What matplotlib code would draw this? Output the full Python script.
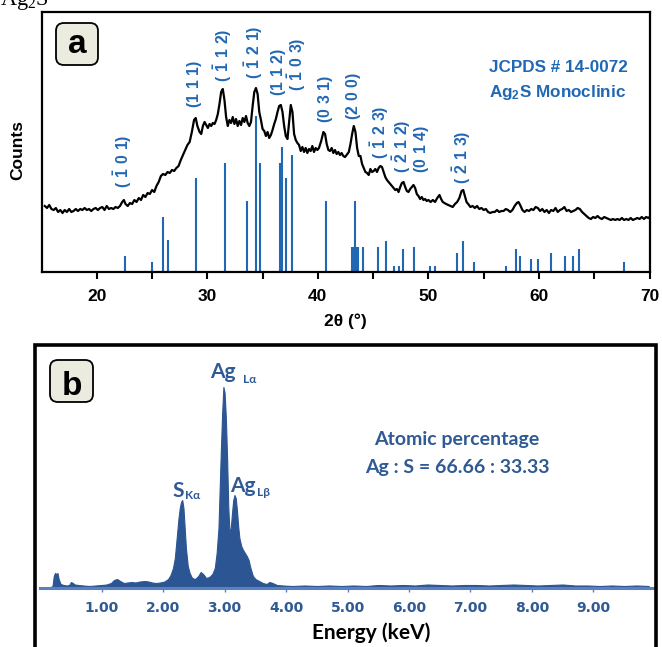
import matplotlib
matplotlib.use("Agg")
import matplotlib.pyplot as plt
from matplotlib.patches import FancyBboxPatch, Rectangle
import numpy as np

W, H = 662, 647

# ---------------- data: XRD (panel a) ----------------
two_theta = [15.3, 15.5, 15.7, 15.9, 16.1, 16.3, 16.5, 16.7, 16.9, 17.1, 17.3, 17.5, 17.7, 17.9,
             18.1, 18.3, 18.5, 18.7, 18.9, 19.1, 19.3, 19.5, 19.7, 19.9, 20.1, 20.3, 20.5, 20.7,
             20.9, 21.1, 21.3, 21.5, 21.7, 21.9, 22.1, 22.3, 22.45, 22.6, 22.8, 23.0, 23.2, 23.4,
             23.6, 23.8, 24.0, 24.2, 24.4, 24.6, 24.8, 25.0, 25.2, 25.4, 25.6, 25.8, 26.0, 26.2,
             26.4, 26.6, 26.8, 27.0, 27.2, 27.4, 27.6, 27.8, 28.0, 28.2, 28.4, 28.6, 28.8, 28.95,
             29.1, 29.3, 29.45, 29.6, 29.75, 29.9, 30.05, 30.2, 30.35, 30.5, 30.65, 30.8, 30.95,
             31.1, 31.25, 31.4, 31.55, 31.7, 31.85, 32.0, 32.15, 32.3, 32.45, 32.6, 32.75, 32.9,
             33.05, 33.2, 33.35, 33.5, 33.65, 33.8, 33.95, 34.1, 34.25, 34.4, 34.55, 34.7, 34.85,
             35.0, 35.15, 35.3, 35.45, 35.6, 35.75, 35.9, 36.05, 36.2, 36.35, 36.5, 36.65, 36.8,
             36.95, 37.1, 37.25, 37.4, 37.55, 37.7, 37.85, 38.0, 38.15, 38.3, 38.45, 38.6, 38.75,
             38.9, 39.05, 39.2, 39.35, 39.5, 39.65, 39.8, 39.95, 40.1, 40.3, 40.5, 40.65, 40.8,
             40.95, 41.1, 41.25, 41.4, 41.55, 41.7, 41.85, 42.0, 42.15, 42.3, 42.45, 42.6, 42.8,
             42.95, 43.1, 43.25, 43.4, 43.55, 43.7, 43.85, 44.0, 44.15, 44.3, 44.45, 44.6, 44.75,
             44.9, 45.05, 45.2, 45.35, 45.5, 45.65, 45.8, 45.95, 46.1, 46.25, 46.4, 46.55, 46.7,
             46.85, 47.0, 47.15, 47.3, 47.45, 47.6, 47.75, 47.9, 48.05, 48.2, 48.35, 48.5, 48.65,
             48.8, 48.95, 49.1, 49.25, 49.4, 49.55, 49.7, 49.85, 50.0, 50.2, 50.4, 50.6, 50.8,
             51.0, 51.15, 51.3, 51.45, 51.6, 51.8, 52.0, 52.2, 52.4, 52.6, 52.8, 53.0, 53.15,
             53.3, 53.45, 53.6, 53.8, 54.0, 54.2, 54.4, 54.6, 54.8, 55.0, 55.2, 55.4, 55.6, 55.8,
             56.0, 56.2, 56.4, 56.6, 56.8, 57.0, 57.2, 57.4, 57.6, 57.8, 58.0, 58.15, 58.3, 58.5,
             58.7, 58.9, 59.1, 59.3, 59.5, 59.7, 59.9, 60.1, 60.3, 60.5, 60.7, 60.9, 61.1, 61.3,
             61.5, 61.7, 61.9, 62.1, 62.3, 62.5, 62.7, 62.9, 63.1, 63.3, 63.5, 63.7, 63.9, 64.1,
             64.3, 64.5, 64.7, 64.9, 65.1, 65.3, 65.5, 65.7, 65.9, 66.1, 66.3, 66.5, 66.7, 66.9,
             67.1, 67.3, 67.5, 67.7, 67.9, 68.1, 68.3, 68.5, 68.7, 68.9, 69.1, 69.3, 69.5, 69.7,
             69.9, 70.0]
counts = [66, 64, 67, 63, 62, 64, 60, 62, 59, 62, 60, 63, 60, 61,
          63, 61, 63, 62, 64, 62, 63, 61, 63, 64, 62, 64, 65, 62,
          66, 63, 64, 63, 65, 64, 66, 70, 72, 68, 66, 69, 68, 72,
          70, 74, 72, 77, 75, 79, 78, 82, 80, 86, 90, 96, 98, 97,
          100, 99, 102, 101, 104, 106, 112, 117, 122, 127, 130, 140, 152, 154,
          146, 140, 138, 146, 150, 147, 144, 148, 146, 149, 148, 152, 158,
          168, 180, 183, 172, 155, 146, 152, 149, 155, 148, 153, 146, 151,
          147, 154, 150, 156, 149, 146, 150, 166, 180, 184, 178, 160, 152,
          143, 141, 136, 140, 134, 137, 142, 148, 153, 160, 166, 167, 160,
          146, 136, 133, 150, 167, 160, 138, 132, 129, 127, 121, 125, 120,
          124, 119, 123, 121, 126, 120, 124, 122, 124, 131, 140, 138, 128,
          122, 121, 124, 119, 122, 118, 120, 117, 119, 116, 115, 117, 120,
          128, 138, 146, 140, 124, 116, 116, 108, 104, 100, 99, 97, 103,
          100, 101, 103, 100, 104, 106, 105, 100, 95, 92, 90, 88, 86,
          84, 82, 83, 80, 85, 89, 90, 85, 81, 80, 83, 85, 87,
          84, 78, 76, 73, 75, 72, 73, 71, 72, 70, 72, 70, 74,
          77, 73, 70, 69, 68, 67, 66, 65, 68, 70, 74, 81, 82,
          76, 70, 68, 65, 66, 64, 66, 63, 64, 62, 63, 60, 59, 60,
          60, 62, 60, 61, 61, 63, 62, 60, 62, 66, 69, 70, 67, 62,
          60, 62, 61, 63, 62, 65, 64, 61, 63, 60, 62, 59, 62, 61,
          64, 60, 62, 63, 65, 61, 62, 60, 61, 62, 64, 63, 60, 58,
          56, 54, 53, 55, 54, 56, 54, 53, 55, 54, 53, 52, 53, 52,
          53, 52, 54, 52, 53, 52, 54, 52, 53, 54, 53, 55, 53, 55,
          54, 55]

# JCPDS 14-0072 reference lines
ref_pos = [22.52, 24.98, 25.97, 26.40, 29.00, 31.60, 33.60, 34.40, 34.75, 36.55, 36.80, 37.10,
           37.70, 40.70, 43.10, 43.20, 43.33, 43.45, 43.60, 44.10, 45.40, 46.15, 46.85, 47.30,
           47.66, 48.70, 50.10, 50.60, 52.60, 53.15, 54.10, 57.05, 57.90, 58.26, 59.30, 59.90,
           61.05, 62.40, 63.06, 63.60, 67.70]
ref_int = [16, 10, 55, 32, 94, 109, 71, 156, 109, 109, 125, 94,
           117, 71, 25, 25, 71, 25, 25, 25, 25, 31, 6, 6,
           23, 25, 6, 6, 19, 31, 10, 6, 23, 16, 13, 13,
           19, 16, 16, 23, 10]

hkl_labels = [r"$\mathbf{(\ \bar{1}\ 0\ 1)}$", r"$\mathbf{(1\ 1\ 1)}$",
              r"$\mathbf{(\ \bar{1}\ 1\ 2)}$", r"$\mathbf{(\ \bar{1}\ 2\ 1)}$",
              r"$\mathbf{(1\ 1\ 2)}$", r"$\mathbf{(\ \bar{1}\ 0\ 3)}$",
              r"$\mathbf{(0\ 3\ 1)}$", r"$\mathbf{(2\ 0\ 0)}$",
              r"$\mathbf{(\ \bar{1}\ 2\ 3)}$", r"$\mathbf{(\ \bar{2}\ 1\ 2)}$",
              r"$\mathbf{(0\ 1\ 4)}$", r"$\mathbf{(\ \bar{2}\ 1\ 3)}$"]
hkl_x = [22.35, 28.83, 31.35, 34.23, 36.4, 38.1, 40.72, 43.24, 45.62, 47.55, 49.35, 52.97]
hkl_y = [111, 188, 217, 220, 200, 208, 173, 176, 140, 126, 123, 115]

xrd_ticks = [20, 30, 40, 50, 60, 70]

# ---------------- data: EDS (panel b) ----------------
energy = [0.17, 0.20, 0.22, 0.24, 0.26, 0.28, 0.30, 0.33, 0.38, 0.43, 0.47, 0.50, 0.53, 0.56,
          0.62, 0.70, 0.80, 0.90, 1.00, 1.08, 1.15, 1.20, 1.25, 1.30, 1.36, 1.42, 1.48, 1.55,
          1.62, 1.70, 1.76, 1.82, 1.88, 1.95, 2.02, 2.08, 2.12, 2.16, 2.19, 2.22, 2.25, 2.27,
          2.29, 2.31, 2.33, 2.35, 2.37, 2.40, 2.43, 2.47, 2.52, 2.57, 2.61, 2.65, 2.70, 2.75,
          2.80, 2.84, 2.87, 2.90, 2.92, 2.94, 2.96, 2.98, 3.00, 3.02, 3.04, 3.06, 3.08, 3.10,
          3.12, 3.14, 3.16, 3.18, 3.20, 3.22, 3.24, 3.27, 3.30, 3.33, 3.36, 3.39, 3.42, 3.46,
          3.50, 3.56, 3.62, 3.68, 3.73, 3.78, 3.85, 3.95, 4.1, 4.3, 4.5, 4.7, 4.9, 5.1, 5.3,
          5.5, 5.7, 5.9, 6.1, 6.3, 6.5, 6.7, 6.9, 7.1, 7.3, 7.5, 7.7, 7.9, 8.1, 8.3, 8.5,
          8.7, 8.9, 9.1, 9.3, 9.5, 9.7, 9.9]
eds_counts = [1, 2, 12, 15, 14, 15, 9, 4, 3, 2.5, 3, 6, 5, 3.5,
              3, 2.5, 2, 2.5, 3, 3.5, 5, 8, 9, 7, 5, 5.5, 6, 5.5,
              6.5, 7, 6.5, 5.5, 5, 5.5, 6.5, 9, 13, 20, 30, 50, 70, 80,
              86, 88, 80, 60, 40, 22, 15, 10, 9, 12, 16, 14, 10, 11,
              14, 20, 35, 60, 100, 140, 175, 201, 195, 170, 130, 80, 55, 60,
              75, 88, 93, 90, 78, 62, 50, 42, 38, 35, 32, 28, 20, 12,
              9, 7, 5, 4, 6, 5, 3, 2.5, 2, 2.5, 2, 2.5, 2, 2.5, 2,
              3, 2.5, 3, 2.5, 3.5, 3, 2.5, 3, 3, 2.5, 3, 3.5, 3, 2.5, 3, 3.5,
              2.5, 2.5, 2, 2.5, 2, 2.5, 2]
eds_ticks = [1, 2, 3, 4, 5, 6, 7, 8, 9]
eds_ticklabels = ["1.00", "2.00", "3.00", "4.00", "5.00", "6.00", "7.00", "8.00", "9.00"]

# ---------------- styling ----------------
BLUE = "#2168b4"
EDS_BLUE = "#2c5594"
EDS_TEXT = "#2f5a93"
SANS = ["Liberation Sans", "DejaVu Sans"]
CAL = ["Lato", "DejaVu Sans"]

plt.rcParams["font.family"] = SANS
plt.rcParams["mathtext.fontset"] = "custom"
plt.rcParams["mathtext.rm"] = "Liberation Sans"
plt.rcParams["mathtext.bf"] = "Liberation Sans:bold"


def fx(px):
    return px / W


def fy(py):
    return 1 - py / H


fig = plt.figure(figsize=(W / 100, H / 100), dpi=100)

# top-left cropped caption
fig.text(0.0, fy(5), r"Ag$\mathregular{_2}$S", family=["Liberation Serif", "DejaVu Serif"],
         fontsize=16, ha="left", va="baseline")

# ---------------- panel a ----------------
ax = fig.add_axes([fx(41.5), fy(272), fx(649.5) - fx(41.5), fy(12) - fy(272)])
ax.plot(two_theta, counts, color="black", lw=1.6)
ax.vlines(ref_pos, 0, ref_int, color=BLUE, lw=1.5)
ax.set_xlim(15, 70)
ax.set_ylim(0, 260)
ax.set_yticks([])
ax.set_xticks(xrd_ticks)
ax.set_xticks([25, 35, 45, 55, 65], minor=True)
for s in ax.spines.values():
    s.set_linewidth(1.6)
ax.tick_params(axis="x", which="both", direction="out", length=5, width=1.5, pad=7)
ax.tick_params(axis="x", which="major", labelsize=12.5)
for lab in ax.get_xticklabels():
    lab.set_fontweight("bold")
ax.set_xlabel("2θ (°)", fontsize=12.5, fontweight="bold", labelpad=7)

for s, x, y in zip(hkl_labels, hkl_x, hkl_y):
    ax.text(x, y, s, rotation=90, ha="center", va="center", color=BLUE,
            fontsize=11.3)

fig.text(fx(18), fy(150), "Counts", rotation=90, ha="center", va="center",
         fontsize=12.5, fontweight="bold")
fig.text(fx(558), fy(68), "JCPDS # 14-0072", ha="center", va="center",
         color=BLUE, fontsize=12.3, fontweight="bold")
fig.text(fx(558), fy(93), r"Ag$\mathbf{_2}$S Monoclinic", ha="center", va="center",
         color=BLUE, fontsize=12.3, fontweight="bold")

boxa = FancyBboxPatch((fx(56), fy(65)), fx(98) - fx(56), fy(23) - fy(65),
                      boxstyle="round,pad=0,rounding_size=0.012", transform=fig.transFigure,
                      fc="#ecebdf", ec="black", lw=1.3)
fig.add_artist(boxa)
fig.text(fx(77), fy(53), "a", ha="center", va="baseline", fontsize=24, fontweight="bold")

# ---------------- panel b ----------------
frame_b = Rectangle((fx(35), fy(670)), fx(656) - fx(35), fy(345) - fy(670),
                    transform=fig.transFigure, fill=False, ec="black", lw=2.6)
fig.add_artist(frame_b)

boxb = FancyBboxPatch((fx(50), fy(402)), fx(93) - fx(50), fy(360) - fy(402),
                      boxstyle="round,pad=0,rounding_size=0.012", transform=fig.transFigure,
                      fc="#ecebdf", ec="black", lw=1.3)
fig.add_artist(boxb)
fig.text(fx(71.5), fy(395), "b", ha="center", va="baseline", fontsize=24, fontweight="bold")

axb = fig.add_axes([fx(40.25), fy(588), fx(653) - fx(40.25), fy(360) - fy(588)])
axb.fill_between(energy, 0, eds_counts, color=EDS_BLUE, lw=0.8)
axb.set_xlim(0, 9.97)
axb.set_ylim(0, 228)
axb.patch.set_visible(False)
for k in ["top", "left", "right"]:
    axb.spines[k].set_visible(False)
axb.spines["bottom"].set_color("#5a80bd")
axb.spines["bottom"].set_linewidth(2.2)
axb.set_yticks([])
axb.set_xticks(eds_ticks)
axb.set_xticklabels(eds_ticklabels)
axb.tick_params(axis="x", direction="out", length=3, width=1, color="#5a80bd", pad=6,
                labelsize=10, labelcolor=EDS_TEXT)
for lab in axb.get_xticklabels():
    lab.set_fontfamily(["Liberation Sans Narrow", "DejaVu Sans"])
    lab.set_fontweight("bold")

# peak labels
fig.text(fx(210), fy(378), "Ag", ha="left", va="baseline", color=EDS_TEXT,
         fontsize=15, fontweight="bold", family=CAL)
fig.text(fx(243), fy(383), "Lα", ha="left", va="baseline", color=EDS_TEXT,
         fontsize=8.5, fontweight="bold", family=CAL)
fig.text(fx(172), fy(497), "S", ha="left", va="baseline", color=EDS_TEXT,
         fontsize=15, fontweight="bold", family=CAL)
fig.text(fx(185), fy(499), "Kα", ha="left", va="baseline", color=EDS_TEXT,
         fontsize=8.5, fontweight="bold", family=CAL)
fig.text(fx(230), fy(492), "Ag", ha="left", va="baseline", color=EDS_TEXT,
         fontsize=15, fontweight="bold", family=CAL)
fig.text(fx(257), fy(496), "Lβ", ha="left", va="baseline", color=EDS_TEXT,
         fontsize=8.5, fontweight="bold", family=CAL)

fig.text(fx(457), fy(440), "Atomic percentage", ha="center", va="center", color=EDS_TEXT,
         fontsize=14, fontweight="bold", family=CAL)
fig.text(fx(457), fy(467), "Ag : S = 66.66 : 33.33", ha="center", va="center", color=EDS_TEXT,
         fontsize=14, fontweight="bold", family=CAL)
fig.text(fx(371), fy(633), "Energy (keV)", ha="center", va="center", color="black",
         fontsize=15, fontweight="bold", family=CAL)

fig.savefig("out.png", dpi=100)
